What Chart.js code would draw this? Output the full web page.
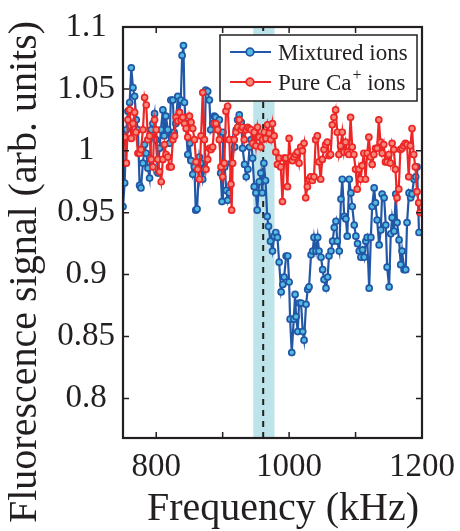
<!DOCTYPE html>
<html>
<head>
<meta charset="utf-8">
<script src="https://cdn.jsdelivr.net/npm/chart.js@4/dist/chart.umd.min.js"></script>
<style>
  html, body { margin: 0; padding: 0; background: #fff; }
  #wrap { width: 460px; height: 531px; }
</style>
</head>
<body>
<div id="wrap"><canvas id="fluoChart" width="460" height="531"></canvas></div>
<script>
// Mixtured ions (blue)
const blueFreq = [
  750, 752.5, 755, 757.5, 760, 762.5, 765, 767.5, 770, 772.5, 775, 777, 780, 782.5, 785, 787.5, 790, 792.5, 795, 797.5,
  799.5, 802.5, 805, 807, 810, 812, 814.5, 817.5, 820, 822, 825, 827, 829.5, 832.5, 835, 837, 839, 841, 842.5, 844.5,
  847.5, 850.5, 852.5, 855, 857.5, 859.5, 861.5, 865, 867, 870, 872.5, 874.5, 877.5, 880, 882, 885, 887.5, 889.5, 892.5, 895,
  897, 899, 900.5, 903, 905.5, 907.5, 910, 913, 915.5, 918, 920.5, 922.5, 925, 928, 930, 933, 935.5, 938, 940.5, 943,
  945, 947.5, 950, 952, 955, 957.5, 959.5, 962, 964.5, 967, 969, 972, 975, 977.5, 980, 982.5, 985, 988, 990.5, 992.5,
  995.5, 998, 1000, 1001.5, 1004, 1007, 1009, 1010.5, 1013, 1015, 1018, 1020.5, 1022.5, 1025.5, 1028, 1030, 1033, 1035.5, 1037.5, 1040.5,
  1043, 1045, 1048, 1050.5, 1052.5, 1055.5, 1058, 1060, 1063, 1065.5, 1068, 1070.5, 1072.5, 1075.5, 1078, 1080, 1083, 1085.5, 1087.5, 1090.5,
  1093, 1095, 1098, 1100.5, 1103, 1105.5, 1108, 1110.5, 1113, 1115.5, 1117.5, 1120.5, 1123, 1125, 1128, 1130, 1132.5, 1135.5, 1138, 1140,
  1143, 1145.5, 1147.5, 1150.5, 1153, 1155, 1158, 1160.5, 1162.5, 1165.5, 1168, 1170, 1173, 1175.5, 1177.5, 1180.5, 1183, 1185, 1188, 1190.5,
  1192.5, 1195.5
];
const blueSignal = [
  0.955, 0.974, 1.017, 1.032, 1.039, 1.067, 1.051, 1.044, 1.025, 1.017, 0.972, 0.970, 0.990, 1.005, 0.998, 0.986, 0.978, 1.017, 1.022, 1.030,
  1.009, 0.982, 1.002, 1.017, 1.033, 1.012, 1.028, 1.017, 1.006, 1.041, 1.041, 1.015, 1.022, 1.044, 1.031, 1.041, 1.077, 1.085, 1.039, 1.022,
  0.997, 1.006, 0.992, 0.981, 0.987, 0.952, 0.953, 0.995, 0.990, 0.977, 0.985, 1.049, 1.048, 1.041, 1.017, 1.022, 1.028, 1.027, 1.017, 1.025,
  0.982, 0.959, 1.015, 0.987, 0.968, 0.960, 0.966, 0.990, 1.009, 1.003, 1.017, 1.025, 1.029, 1.023, 1.002, 0.989, 0.979, 0.985, 1.003, 1.009,
  0.994, 0.971, 0.966, 0.952, 0.975, 0.982, 0.966, 0.990, 0.976, 0.947, 0.939, 0.927, 0.919, 0.931, 0.934, 0.930, 0.910, 0.886, 0.892, 0.898,
  0.915, 0.915, 0.894, 0.864, 0.837, 0.864, 0.884, 0.866, 0.854, 0.877, 0.877, 0.854, 0.847, 0.876, 0.888, 0.890, 0.916, 0.919, 0.930, 0.919,
  0.930, 0.919, 0.914, 0.904, 0.896, 0.889, 0.898, 0.915, 0.919, 0.927, 0.938, 0.943, 0.927, 0.919, 0.961, 0.977, 0.947, 0.945, 0.931, 0.977,
  0.966, 0.955, 0.940, 0.931, 0.925, 0.919, 0.914, 0.920, 0.914, 0.927, 0.930, 0.889, 0.930, 0.955, 0.970, 0.958, 0.944, 0.924, 0.936, 0.965,
  0.962, 0.940, 0.906, 0.890, 0.933, 0.946, 0.935, 0.965, 0.942, 0.928, 0.908, 0.919, 0.904, 0.904, 0.942, 0.966, 0.962, 0.965, 0.977, 0.979,
  0.987, 0.934
];

// Pure Ca+ ions (red)
const redFreq = [
  750, 752.5, 755, 757.5, 760, 762.5, 765, 767.5, 769.5, 772.5, 775, 777, 780, 782.5, 785, 787.5, 790, 792.5, 795, 797.5,
  800, 802.5, 805, 807.5, 810, 812.5, 815, 817.5, 820, 822.5, 825, 827.5, 830, 832.5, 835, 837.5, 840, 842.5, 845, 847.5,
  850, 852.5, 855, 857.5, 860, 862.5, 865, 867.5, 870, 872.5, 875, 877.5, 880, 882.5, 885, 887.5, 890, 892.5, 895, 897.5,
  900, 902.5, 905, 907.5, 910, 912.5, 913.5, 915, 917.5, 920, 922.5, 925, 927.5, 930, 932.5, 935, 937.5, 940, 942.5, 945,
  947.5, 950, 952.5, 955, 957.5, 960, 962.5, 965, 967.5, 970, 972.5, 975, 977.5, 980, 982.5, 985, 987.5, 990, 992.5, 995,
  997.5, 1000, 1002.5, 1005, 1007.5, 1010, 1012.5, 1015, 1017.5, 1020, 1022.5, 1025, 1027.5, 1030, 1032.5, 1035, 1037.5, 1040, 1042.5, 1045,
  1047.5, 1050, 1052.5, 1055, 1057.5, 1060, 1062.5, 1065, 1067.5, 1070, 1072.5, 1075, 1077.5, 1080, 1082.5, 1085, 1087.5, 1090, 1092.5, 1095,
  1097.5, 1100, 1102.5, 1105, 1107.5, 1110, 1112.5, 1115, 1117.5, 1120, 1122.5, 1125, 1127.5, 1130, 1132.5, 1135, 1137.5, 1140, 1142.5, 1145,
  1147.5, 1150, 1152.5, 1155, 1157.5, 1160, 1162.5, 1165, 1167.5, 1170, 1172.5, 1175, 1177.5, 1180, 1182.5, 1185, 1187.5, 1190, 1192.5, 1195,
  1197
];
const redSignal = [
  1.010, 1.011, 0.990, 1.025, 1.033, 1.010, 1.022, 1.031, 1.015, 0.998, 0.998, 1.001, 1.017, 1.043, 1.037, 1.009, 1.012, 0.993, 0.987, 1.025,
  1.017, 0.993, 0.983, 0.975, 0.993, 1.005, 0.997, 0.995, 0.987, 0.987, 1.009, 1.012, 1.027, 1.024, 1.031, 1.025, 1.027, 1.022, 1.018, 1.011,
  1.028, 1.023, 1.018, 1.009, 0.991, 0.985, 0.977, 1.012, 1.047, 1.009, 0.985, 0.993, 1.002, 1.001, 1.003, 1.022, 1.022, 1.017, 1.009, 0.987,
  0.979, 0.990, 1.032, 1.036, 1.009, 0.973, 0.952, 0.990, 1.009, 1.015, 1.019, 1.025, 1.017, 1.019, 1.009, 1.017, 1.019, 1.018, 1.017, 1.006,
  1.015, 1.004, 1.019, 1.011, 1.003, 1.009, 1.015, 1.010, 1.021, 1.014, 1.009, 1.022, 1.012, 0.999, 0.989, 0.994, 0.987, 0.959, 0.994, 0.994,
  0.971, 1.010, 0.995, 0.992, 0.995, 0.997, 0.999, 0.990, 1.003, 1.000, 1.006, 0.962, 0.971, 0.977, 0.979, 0.976, 0.979, 1.009, 1.012, 0.991,
  0.977, 0.993, 1.001, 1.005, 1.007, 0.996, 0.997, 1.021, 1.027, 1.033, 1.015, 0.997, 1.004, 1.015, 0.999, 1.007, 0.999, 0.997, 1.027, 1.003,
  0.997, 0.985, 0.969, 0.985, 0.977, 0.988, 0.998, 0.977, 0.998, 1.011, 0.995, 0.989, 0.997, 1.002, 1.002, 1.025, 1.007, 0.998, 1.005, 0.991,
  0.991, 0.997, 0.990, 1.006, 1.001, 0.985, 0.962, 0.969, 1.001, 1.002, 1.004, 1.006, 1.005, 0.979, 1.004, 1.018, 0.997, 0.987, 0.967, 0.958,
  0.950
];

const xTicks = [800, 900, 1000, 1100, 1200];
const xTickLabels = [800, 1000, 1200];
const yTicks = [0.8, 0.85, 0.9, 0.95, 1, 1.05, 1.1];

// shaded resonance band and dashed marker (kHz)
const bandStart = 946;
const bandEnd = 978;
const resonanceFreq = 961;

const UI_CONST = {
    FONT: "'Liberation Serif', 'Times New Roman', serif",
    TEXT_COLOR: '#231f20',
    BAND_COLOR: '#bde4eb',
    X_TITLE: 'Frequency (kHz)',
    Y_TITLE: 'Fluorescence signal (arb. units)',
    X_MIN: 750,
    X_MAX: 1200,
    Y_MIN: 0.768,
    Y_MAX: 1.1,
};

Chart.defaults.font.family = UI_CONST.FONT;
Chart.defaults.color = UI_CONST.TEXT_COLOR;

function toPoints(xs, ys) {
    return xs.map((x, i) => ({ x: x, y: ys[i] }));
}

const bandPlugin = {
    id: 'band',
    beforeDatasetsDraw(chart) {
        const { ctx, chartArea, scales } = chart;
        const x0 = scales.x.getPixelForValue(bandStart);
        const x1 = scales.x.getPixelForValue(bandEnd);
        const xr = scales.x.getPixelForValue(resonanceFreq);
        ctx.save();
        ctx.fillStyle = UI_CONST.BAND_COLOR;
        ctx.fillRect(x0, chartArea.top, x1 - x0, chartArea.bottom - chartArea.top);
        ctx.strokeStyle = UI_CONST.TEXT_COLOR;
        ctx.lineWidth = 2;
        ctx.setLineDash([6, 5]);
        ctx.beginPath();
        ctx.moveTo(xr, chartArea.bottom);
        ctx.lineTo(xr, chartArea.top);
        ctx.stroke();
        ctx.restore();
    }
};

// MATLAB-like box with inward ticks on all four sides
const framePlugin = {
    id: 'frame',
    afterDatasetsDraw(chart) {
        const { ctx, chartArea: a, scales } = chart;
        const len = 6;
        ctx.save();
        ctx.strokeStyle = UI_CONST.TEXT_COLOR;
        ctx.lineWidth = 1.5;
        ctx.beginPath();
        for (const t of scales.x.ticks) {
            const px = scales.x.getPixelForValue(t.value);
            ctx.moveTo(px, a.bottom); ctx.lineTo(px, a.bottom - len);
            ctx.moveTo(px, a.top); ctx.lineTo(px, a.top + len);
        }
        for (const t of scales.y.ticks) {
            const py = scales.y.getPixelForValue(t.value);
            ctx.moveTo(a.left, py); ctx.lineTo(a.left + len, py);
            ctx.moveTo(a.right, py); ctx.lineTo(a.right - len, py);
        }
        ctx.stroke();
        ctx.lineWidth = 2.2;
        ctx.strokeRect(a.left, a.top, a.right - a.left, a.bottom - a.top);
        ctx.restore();
    }
};

const legendPlugin = {
    id: 'boxLegend',
    afterDatasetsDraw(chart) {
        const { ctx, chartArea } = chart;
        const w = 197, h = 66;
        const left = chartArea.right - 5 - w;
        const top = chartArea.top + 8;
        ctx.save();
        ctx.fillStyle = '#fff';
        ctx.fillRect(left, top, w, h);
        ctx.strokeStyle = UI_CONST.TEXT_COLOR;
        ctx.lineWidth = 1.5;
        ctx.strokeRect(left, top, w, h);
        chart.data.datasets.forEach((ds, i) => {
            const y = top + 17 + i * 30;
            ctx.strokeStyle = ds.borderColor;
            ctx.lineWidth = 2;
            ctx.beginPath();
            ctx.moveTo(left + 10, y);
            ctx.lineTo(left + 51, y);
            ctx.stroke();
            ctx.beginPath();
            ctx.arc(left + 30, y, 3.8, 0, Math.PI * 2);
            ctx.fillStyle = ds.pointBackgroundColor;
            ctx.fill();
            ctx.strokeStyle = ds.pointBorderColor;
            ctx.lineWidth = 1.8;
            ctx.stroke();

            // "Ca⁺" -> superscript plus drawn smaller
            const parts = ds.label.split('\u207A');
            let x = left + 58;
            ctx.fillStyle = UI_CONST.TEXT_COLOR;
            ctx.textBaseline = 'alphabetic';
            ctx.textAlign = 'left';
            parts.forEach((p, k) => {
                ctx.font = '23px ' + UI_CONST.FONT;
                ctx.fillText(p, x, y + 8);
                x += ctx.measureText(p).width;
                if (k < parts.length - 1) {
                    ctx.font = '16px ' + UI_CONST.FONT;
                    ctx.fillText('+', x + 1, y - 2);
                    x += ctx.measureText('+').width + 1;
                }
            });
        });
        ctx.restore();
    }
};

const titlePlugin = {
    id: 'axisTitles',
    afterDraw(chart) {
        const { ctx } = chart;
        ctx.save();
        ctx.fillStyle = UI_CONST.TEXT_COLOR;
        ctx.font = '40px ' + UI_CONST.FONT;
        ctx.textAlign = 'center';
        ctx.textBaseline = 'alphabetic';
        ctx.fillText(UI_CONST.X_TITLE, 283, 520);
        ctx.translate(36, 272);
        ctx.rotate(-Math.PI / 2);
        ctx.fillText(UI_CONST.Y_TITLE, 0, 0);
        ctx.restore();
    }
};

const tickFont = { family: UI_CONST.FONT, size: 33 };

new Chart(document.getElementById('fluoChart').getContext('2d'), {
    type: 'line',
    data: {
        datasets: [
            {
                label: 'Mixtured ions',
                data: toPoints(blueFreq, blueSignal),
                borderColor: '#2157a6',
                borderWidth: 2.2,
                pointRadius: 3,
                pointBorderWidth: 1.7,
                pointBackgroundColor: '#52bbe0',
                pointBorderColor: '#2157a6',
                order: 2
            },
            {
                label: 'Pure Ca\u207A ions',
                data: toPoints(redFreq, redSignal),
                borderColor: '#ed2626',
                borderWidth: 2.2,
                pointRadius: 3,
                pointBorderWidth: 1.7,
                pointBackgroundColor: '#f58a7c',
                pointBorderColor: '#ed2626',
                order: 1
            }
        ]
    },
    options: {
        responsive: false,
        animation: false,
        devicePixelRatio: 1,
        layout: { autoPadding: false, padding: { top: 27, right: 38, bottom: 0, left: 0 } },
        plugins: {
            legend: { display: false },
            tooltip: { enabled: false }
        },
        scales: {
            x: {
                type: 'linear',
                min: UI_CONST.X_MIN,
                max: UI_CONST.X_MAX,
                afterBuildTicks: s => { s.ticks = xTicks.map(v => ({ value: v })); },
                afterFit: s => { s.height = 93; s.paddingLeft = 0; s.paddingRight = 0; },
                grid: { display: false, drawTicks: false },
                border: { display: false },
                ticks: {
                    font: tickFont,
                    color: UI_CONST.TEXT_COLOR,
                    padding: 10,
                    maxRotation: 0,
                    autoSkip: false,
                    callback: v => xTickLabels.includes(v) ? String(v) : ''
                }
            },
            y: {
                min: UI_CONST.Y_MIN,
                max: UI_CONST.Y_MAX,
                afterBuildTicks: s => { s.ticks = yTicks.map(v => ({ value: v })); },
                afterFit: s => { s.width = 123; s.paddingTop = 0; s.paddingBottom = 0; },
                grid: { display: false, drawTicks: false },
                border: { display: false },
                ticks: {
                    font: tickFont,
                    color: UI_CONST.TEXT_COLOR,
                    padding: 8,
                    crossAlign: 'center',
                    callback: v => String(parseFloat(v.toFixed(2)))
                }
            }
        }
    },
    plugins: [bandPlugin, framePlugin, legendPlugin, titlePlugin]
});
</script>
</body>
</html>
